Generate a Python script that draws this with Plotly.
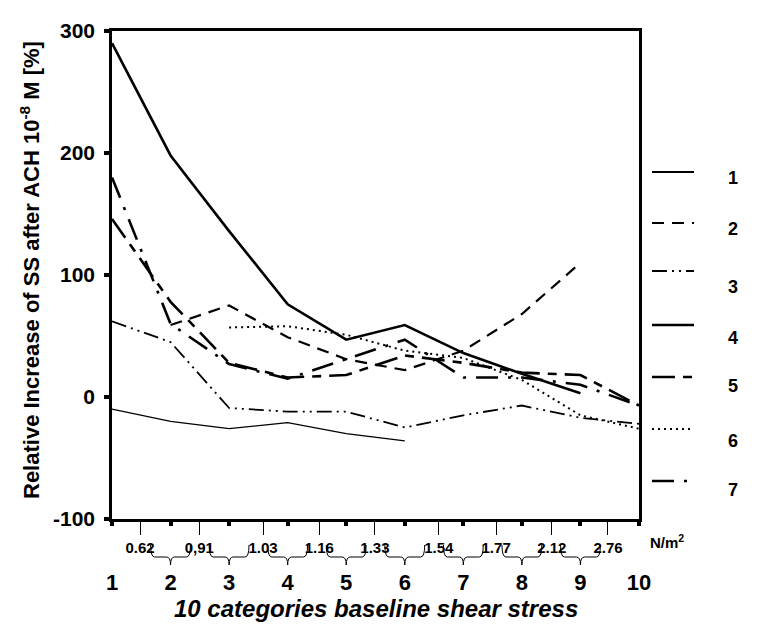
import plotly.graph_objects as go

# ---------------- data ----------------
categories = [1, 2, 3, 4, 5, 6, 7, 8, 9, 10]
category_labels = ["1", "2", "3", "4", "5", "6", "7", "8", "9", "10"]

series_names = ["1", "2", "3", "4", "5", "6", "7"]
s1 = [-10, -20, -26, -21, -30, -36, None, None, None, None]
s2 = [None, 59, 75, 49, 31, 22, 38, 68, 110, None]
s3 = [62, 45, -9, -12, -12, -25, -15, -7, -17, -22]
s4 = [290, 198, 136, 76, 47, 59, 36, 19, 3, None]
s5 = [146, 78, 28, 16, 18, 34, 28, 20, 18, -7]
s6 = [None, None, 57, 58, 51, 38, 32, 14, -15, -26]
s7 = [180, 60, 27, 15, 31, 47, 16, 16, 10, -7]
series_values = [s1, s2, s3, s4, s5, s6, s7]

# shear-stress boundaries between categories (N/m2)
shear_positions = [1.48, 2.49, 3.58, 4.54, 5.49, 6.58, 7.56, 8.51, 9.47]
shear_labels = ["0.62", "0,91", "1.03", "1.16", "1.33", "1.54", "1.77", "2.12", "2.76"]

y_ticks = [-100, 0, 100, 200, 300]
y_tick_labels = ["-100", "0", "100", "200", "300"]

# ---------------- styles ----------------
FONT = "Liberation Sans, Arial, sans-serif"
dashes = ["solid", "12px,8px", "15px,5px,2px,5px,2px,5px", "solid",
          "23px,8px,9px,8px", "2px,4px", "22px,10px,3px,10px"]
widths = [1.3, 2.2, 1.8, 2.6, 2.6, 2.0, 2.6]

fig = go.Figure()
for name, vals, d, w in zip(series_names, series_values, dashes, widths):
    fig.add_trace(go.Scatter(
        x=categories, y=vals, mode="lines", name=name,
        line=dict(color="black", width=w, dash=d),
        connectgaps=False, showlegend=False, cliponaxis=False))

# second (overlaying) x-axis for the shear stress boundaries
fig.add_trace(go.Scatter(x=[1, 10], y=[None, None], xaxis="x2", showlegend=False,
                         hoverinfo="skip"))

L, R, T, B = 112, 119, 31, 109
W, H = 758, 628
pw, ph = W - L - R, H - T - B


def px_x(p):  # pixel -> paper x
    return (p - L) / pw


def px_y(p):  # pixel -> paper y
    return (H - B - p) / ph


fig.update_layout(
    width=W, height=H,
    margin=dict(l=L, r=R, t=T, b=B),
    paper_bgcolor="white", plot_bgcolor="white",
    font=dict(family=FONT, color="black"),
    xaxis=dict(range=[1, 10], tickvals=categories, ticktext=category_labels,
               ticks="outside", ticklen=4, tickwidth=4, tickcolor="black",
               showline=True, linewidth=2.5, linecolor="black", mirror=True,
               showgrid=False, zeroline=False,
               tickfont=dict(size=22, family=FONT, weight="bold"),
               ticklabelstandoff=38),
    xaxis2=dict(range=[1, 10], overlaying="x", anchor="y", side="bottom",
                tickvals=shear_positions, ticktext=shear_labels,
                ticks="outside", ticklen=15, tickwidth=1, tickcolor="black",
                showline=False, showgrid=False, zeroline=False,
                tickfont=dict(size=15, family=FONT, weight="bold")),
    yaxis=dict(range=[-100, 300], tickvals=y_ticks, ticktext=y_tick_labels,
               ticks="outside", ticklen=5, tickwidth=3.5, tickcolor="black",
               showline=True, linewidth=2.5, linecolor="black", mirror=True,
               showgrid=False, zeroline=False,
               tickfont=dict(size=21, family=FONT, weight="bold"),
               ticklabelstandoff=5),
)

annotations = []
shapes = []

# y title
annotations.append(dict(
    text="Relative Increase of SS after ACH 10<sup>-8</sup> M [%]",
    xref="paper", yref="paper", x=px_x(30), y=px_y(270), textangle=-90,
    xanchor="center", yanchor="middle", showarrow=False,
    font=dict(size=22, family=FONT, weight="bold")))

# x title
annotations.append(dict(
    text="<i>10 categories baseline shear stress</i>",
    xref="paper", yref="paper", x=0.5, y=px_y(608),
    xanchor="center", yanchor="middle", showarrow=False,
    font=dict(size=24, family=FONT, weight="bold")))

# unit
annotations.append(dict(
    text="N/m<sup>2</sup>", xref="paper", yref="paper", x=px_x(667), y=px_y(541),
    xanchor="center", yanchor="middle", showarrow=False,
    font=dict(size=15, family=FONT, weight="bold")))

# braces under the shear-stress labels, one per inner category
half = 0.34
r = 4 / (pw / 9)  # ~4 px in data units
y_top, y_mid, y_tip = px_y(545), px_y(557), px_y(565)
for c in categories[1:-1]:
    xl, xr = c - half, c + half
    path = (f"M {xl},{y_top} Q {xl},{y_mid} {xl + r},{y_mid} "
            f"L {c - r},{y_mid} Q {c},{y_mid} {c},{y_tip} "
            f"Q {c},{y_mid} {c + r},{y_mid} L {xr - r},{y_mid} "
            f"Q {xr},{y_mid} {xr},{y_top}")
    shapes.append(dict(type="path", path=path, xref="x", yref="paper",
                       line=dict(color="black", width=1)))

# manual legend
legend_line_y = [172, 223, 271, 325, 377, 429, 481]
legend_text_y = [178, 229, 287, 338, 386, 441, 490]
for name, d, w, ly, ty in zip(series_names, dashes, widths, legend_line_y, legend_text_y):
    shapes.append(dict(type="line", xref="paper", yref="paper",
                       x0=px_x(652), x1=px_x(694), y0=px_y(ly), y1=px_y(ly),
                       line=dict(color="black", width=max(w, 2.0), dash=d)))
    annotations.append(dict(text=name, xref="paper", yref="paper",
                            x=px_x(733), y=px_y(ty), xanchor="center", yanchor="middle",
                            showarrow=False,
                            font=dict(size=18, family=FONT, weight="bold")))

fig.update_layout(annotations=annotations, shapes=shapes)
fig.write_html("out.html")
